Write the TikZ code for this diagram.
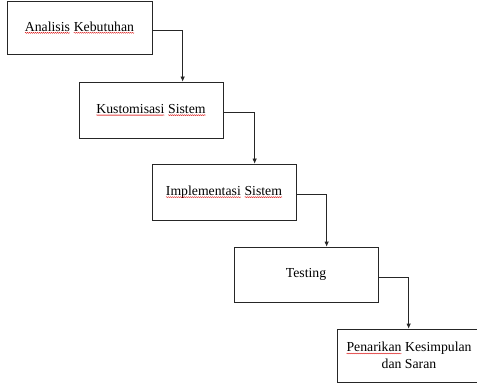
\documentclass[tikz,border=0pt]{standalone}
\usepackage{fontspec}
\setmainfont{Liberation Serif}
\usetikzlibrary{decorations.pathmorphing,arrows.meta}
\newcommand\spellerr[1]{\tikz[baseline=(sw.base)]{\node[draw=none,inner sep=0pt,outer sep=0pt,minimum width=0pt,minimum height=0pt](sw){#1};\draw[red!85!black,line width=0.35pt,decorate,decoration={snake,amplitude=0.45pt,segment length=2pt}]([yshift=-1.8pt]sw.base west)--([yshift=-1.8pt]sw.base east);}}
\tikzset{
  box/.style={draw=black!85,line width=0.7pt,minimum width=144pt,minimum height=55pt,inner sep=0pt,align=center,font=\fontsize{13.75}{17}\selectfont},
  arr/.style={draw=black!85,line width=0.7pt,-{Latex[length=5pt,width=4.5pt]}}
}
\begin{document}
\begin{tikzpicture}[x=1pt,y=-1pt]
\useasboundingbox (0,0) rectangle (477,385);
\node[box,minimum width=145pt,minimum height=53pt] (b1) at (79.5,27.5) {\spellerr{Analisis} \spellerr{Kebutuhan}};
\node[box,minimum height=56pt] (b2) at (151,110) {\spellerr{Kustomisasi} \spellerr{Sistem}};
\node[box,minimum height=56pt] (b3) at (224,192) {\spellerr{Implementasi} \spellerr{Sistem}};
\node[box] (b4) at (306,274.5) {Testing};
\node[box,minimum height=53pt] (b5) at (409,355.5) {\spellerr{Penarikan} Kesimpulan\\dan Saran};
\draw[arr] ([yshift=-2.5pt]b1.east) -| ([xshift=104pt]b2.north west);
\draw[arr] ([yshift=-2pt]b2.east) -| ([xshift=103pt]b3.north west);
\draw[arr] ([yshift=-2pt]b3.east) -| ([xshift=93pt]b4.north west);
\draw[arr] ([yshift=-2.5pt]b4.east) -| ([xshift=72pt]b5.north west);
\end{tikzpicture}
\end{document}
